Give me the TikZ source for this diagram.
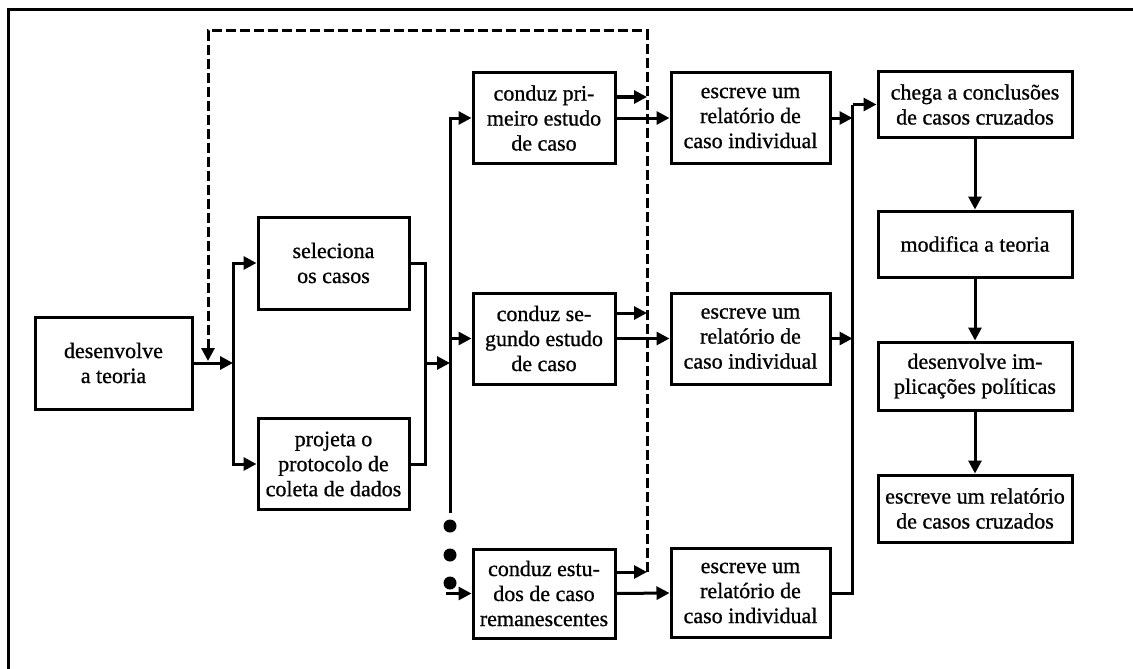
\documentclass[tikz,border=0pt]{standalone}
\usepackage{fontspec}
\setmainfont{Liberation Serif}[FakeBold=0.8]
\usetikzlibrary{arrows.meta,calc}
\begin{document}
\begin{tikzpicture}[x=1pt,y=-1pt,
  box/.style={draw, line width=3pt, align=center, inner sep=0pt,
    font=\fontsize{22}{25}\selectfont},
  conn/.style={line width=3pt},
  arr/.style={conn, -{Triangle[length=13pt,width=13pt]}},
  dashline/.style={line width=3pt, dash pattern=on 10pt off 4pt},
  dot/.style={circle, fill, inner sep=0pt, minimum size=13pt}]
\useasboundingbox (0,0) rectangle (1133,669);
\draw[line width=3pt] (8,669) -- (8,10) -- (1133,10);

% nodes
\node[box, minimum width=157pt, minimum height=92pt] (teoria) at (113.5,363) {desenvolve\\a teoria};
\node[box, minimum width=151pt, minimum height=92pt] (sel) at (333.5,263) {seleciona\\os casos};
\node[box, minimum width=151pt, minimum height=91pt] (proj) at (333.5,464) {projeta o\\protocolo de\\coleta de dados};

\node[box, minimum width=142pt, minimum height=91pt] (c1) at (544,118) {conduz pri-\\meiro estudo\\de caso};
\node[box, minimum width=142pt, minimum height=91pt] (c2) at (544,338.5) {conduz se-\\gundo estudo\\de caso};
\node[box, minimum width=142pt, minimum height=89pt] (c3) at (544,593.5) {conduz estu-\\dos de caso\\remanescentes};

\node[box, minimum width=159pt, minimum height=91pt] (e1) at (750.5,118) {escreve um\\relatório de\\caso individual};
\node[box, minimum width=159pt, minimum height=91pt] (e2) at (750.5,338.5) {escreve um\\relatório de\\caso individual};
\node[box, minimum width=159pt, minimum height=89pt] (e3) at (750.5,593) {escreve um\\relatório de\\caso individual};

\node[box, minimum width=194pt, minimum height=65pt] (chega) at (975,104.5) {chega a conclusões\\de casos cruzados};
\node[box, minimum width=194pt, minimum height=66pt] (mod) at (975,244) {modifica a teoria};
\node[box, minimum width=194pt, minimum height=68pt] (impl) at (975,376) {desenvolve im-\\plicações políticas};
\node[box, minimum width=194pt, minimum height=67pt] (fin) at (975,508.5) {escreve um relatório\\de casos cruzados};

\node[dot] (d1) at (450,526) {};
\node[dot] (d2) at (450,555) {};
\node[dot] (d3) at (450,583) {};

% junction coordinates
\coordinate (j1) at (233,363);
\coordinate (m1) at (425,363);
\coordinate (j2) at (450,363);
\coordinate (vbot) at (450,513);
\coordinate (r1) at ($(chega.west)+(-24,0)$);
\coordinate (dtop) at (647,31);
\coordinate (dl) at (208,31);
\coordinate (f1) at ($(c1.east)+(0,-21)$);
\coordinate (f2) at ($(c2.east)+(0,-25.5)$);
\coordinate (f3) at ($(c3.east)+(0,-21.5)$);

% left part
\draw[arr] (teoria.east) -- (j1);
\draw[arr] (j1) |- (sel.west);
\draw[arr] (j1) |- (proj.west);
\draw[conn] (sel.east) -| (m1);
\draw[conn] (proj.east) -| (m1);
\draw[arr] (m1) -- (j2);

% case studies
\draw[arr] (vbot) |- (c1.west);
\draw[arr] (vbot |- c2.west) -- (c2.west);
\draw[arr] ($(d3.center |- c3.west)+(-4,0)$) -- (c3.west);

\draw[arr] (c1.east) -- (e1.west);
\draw[arr] (c2.east) -- (e2.west);
\draw[arr] (c3.east) -- (e3.west);

% feedback
\draw[arr] (f1) -- (f1 -| dtop);
\draw[arr] (f2) -- (f2 -| dtop);
\draw[arr] (f3) -- (f3 -| dtop);
\draw[dashline, -{Triangle[length=13pt,width=13pt]}] (f3 -| dtop) -- (dtop) -- (dl) -- ($(dl |- teoria.east)+(0,-2)$);

% right merge
\draw[conn] (e3.east) -| (r1);
\draw[arr] (r1) -- (chega.west);
\draw[arr] (e1.east) -- (e1.east -| r1);
\draw[arr] (e2.east) -- (e2.east -| r1);

\draw[arr] (chega.south) -- (mod.north);
\draw[arr] (mod.south) -- (impl.north);
\draw[arr] (impl.south) -- (fin.north);
\end{tikzpicture}
\end{document}
